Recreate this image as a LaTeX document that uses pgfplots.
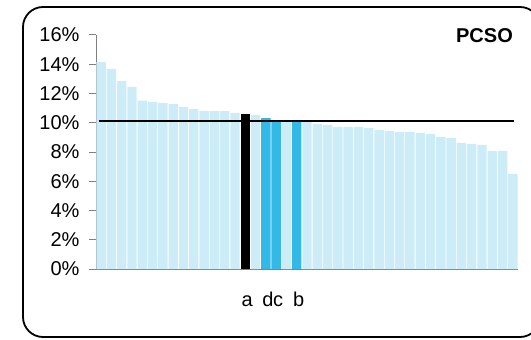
\documentclass[border=0pt]{standalone}
\usepackage{pgfplots}
\pgfplotsset{compat=1.18}
\usepackage{fontspec}
\setmainfont{Liberation Sans}
\definecolor{lightbar}{RGB}{204,236,248}
\definecolor{bluebar}{RGB}{51,185,232}
\definecolor{axgray}{RGB}{128,128,128}
\begin{document}
\begin{tikzpicture}[x=1bp,y=1bp]
\clip (0,0) rectangle (531,339);
\draw[line width=1.8bp, rounded corners=20bp] (23,2) rectangle (540,332);
\begin{axis}[
  at={(96bp,70bp)}, anchor=south west,
  scale only axis, width=422bp, height=234bp,
  xmin=0.5, xmax=41.5, ymin=0, ymax=16,
  axis x line*=bottom, axis y line*=left,
  axis line style={axgray, line width=1bp},
  x axis line style={shorten <=-7bp, -},
  y axis line style={-},
  ytick={0,2,...,16},
  yticklabel={\pgfmathparse{int(\tick)}\pgfmathresult\%},
  tick align=outside, major tick length=7bp,
  ytick style={axgray, line width=1bp},
  xtick={15,17,18,20}, xticklabels={a,d,c,b},
  xtick style={draw=none},
  xticklabel style={yshift=-13bp, xshift=2bp, text height=14bp, text depth=0bp, font=\fontsize{20bp}{22bp}\selectfont},
  yticklabel style={font=\fontsize{20bp}{22bp}\selectfont, xshift=-6bp},
  /pgf/number format/assume math mode=true,
  clip=false,
]
\addplot[ybar, bar width=9.4bp, bar shift=0pt, fill=lightbar, draw=none] coordinates {
(1,14.15) (2,13.68) (3,12.85) (4,12.44) (5,11.51) (6,11.42) (7,11.35) (8,11.28)
(9,11.08) (10,10.94) (11,10.80) (12,10.80) (13,10.80) (14,10.67) (16,10.53)
(19,10.15) (21,10.07) (22,9.91) (23,9.85) (24,9.71) (25,9.71) (26,9.71) (27,9.64)
(28,9.50) (29,9.44) (30,9.37) (31,9.37) (32,9.30) (33,9.23) (34,9.03) (35,8.96)
(36,8.62) (37,8.55) (38,8.48) (39,8.07) (40,8.07) (41,6.50)};
\addplot[ybar, bar width=9.4bp, bar shift=0pt, fill=black, draw=none] coordinates {(15,10.60)};
\addplot[ybar, bar width=9.4bp, bar shift=0pt, fill=bluebar, draw=none] coordinates {(17,10.32) (18,10.18) (20,10.15)};
\addplot[black, line width=2bp, mark=none] coordinates {(0.8,10.15) (41.1,10.15)};
\end{axis}
\node[anchor=east, inner sep=0pt, font=\bfseries\fontsize{20bp}{22bp}\selectfont] at (513,303) {PCSO};
\end{tikzpicture}
\end{document}
